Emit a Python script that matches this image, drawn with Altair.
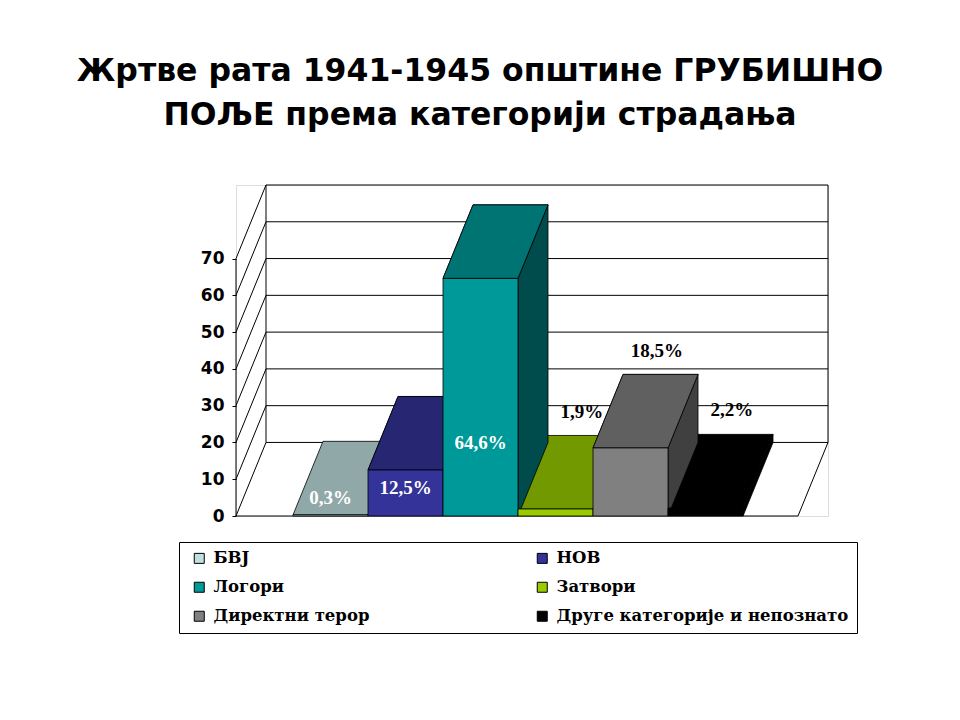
import altair as alt
import pandas as pd

# ---------------- data ----------------
categories = ["БВЈ", "НОВ", "Логори", "Затвори", "Директни терор",
              "Друге категорије и непознато"]
values = [0.3, 12.5, 64.6, 1.9, 18.5, 2.2]
front_colors = ["#c0e0e0", "#333399", "#009999", "#99cc00", "#808080", "#000000"]
label_inside = [True, True, True, False, False, False]
y_ticks = [0, 10, 20, 30, 40, 50, 60, 70]
title_lines = ["Жртве рата 1941-1945 општине ГРУБИШНО",
               "ПОЉЕ према категорији страдања"]

# ---------------- 3D projection style (axis units) ----------------
DX = 0.4          # depth shift along x (in bar widths)
DY = 20.0         # depth shift along y (in value units)
FIRST = 0.76      # floor space before first bar
RIGHT_GAP = 0.733 # floor space after last bar
FLOOR_R = FIRST + len(categories) + RIGHT_GAP
X_MAX = FLOOR_R + DX
Y_MAX = max(y_ticks) + DY
TOP_SHADE = 0.75
SIDE_SHADE = 0.5
LABEL_IN_BASE, LABEL_IN_FRAC = 4.8, 0.232
LABEL_OUT_DX, LABEL_OUT_DY = 0.35, 6.5


def shade(hexc, f):
    r, g, b = (int(hexc[i:i + 2], 16) for i in (1, 3, 5))
    return "#%02x%02x%02x" % (round(r * f), round(g * f), round(b * f))


fronts, tops, sides, tops2, labels = [], [], [], [], []
for i, (c, v, col) in enumerate(zip(categories, values, front_colors)):
    l = FIRST + i
    r = l + 1
    fronts.append(dict(cat=c, x=l, x2=r, y=0, y2=v))
    tcol = shade(col, TOP_SHADE)
    top_rows = [dict(cat=c, y=v, x=l, x2=r, fill=tcol),
                dict(cat=c, y=v + DY, x=l + DX, x2=r + DX, fill=tcol)]
    tops += top_rows
    if i > 0 and v > values[i - 1]:
        tops2 += top_rows
    scol = shade(col, SIDE_SHADE)
    sides += [dict(cat=c, x=r, y=0, y2=v, fill=scol),
              dict(cat=c, x=r + DX, y=DY, y2=v + DY, fill=scol)]
    txt = f"{v:.1f}".replace(".", ",") + "%"
    if label_inside[i]:
        labels.append(dict(x=(l + r) / 2, y=LABEL_IN_BASE + LABEL_IN_FRAC * v,
                           text=txt, fill="#ffffff"))
    else:
        labels.append(dict(x=(l + r) / 2 + LABEL_OUT_DX, y=v + DY + LABEL_OUT_DY,
                           text=txt, fill="#000000"))

walls = []
for k in y_ticks:
    walls.append(dict(x=0, x2=DX, y=k, y2=k + DY))            # left wall
    walls.append(dict(x=DX, x2=X_MAX, y=k + DY, y2=k + DY))   # back grid
walls += [
    dict(x=DX, x2=DX, y=DY, y2=Y_MAX),
    dict(x=X_MAX, x2=X_MAX, y=DY, y2=Y_MAX),
    dict(x=0, x2=0, y=min(y_ticks), y2=max(y_ticks)),
    dict(x=0, x2=FLOOR_R, y=0, y2=0),
    dict(x=FLOOR_R, x2=X_MAX, y=0, y2=DY),
]

# legend fills row by row in the reference (two columns)
n_rows = (len(categories) + 1) // 2
legend_order = [categories[r * 2 + c] for c in range(2) for r in range(n_rows)
                if r * 2 + c < len(categories)]
legend_colors = [front_colors[categories.index(c)] for c in legend_order]

xscale = alt.Scale(domain=[0, X_MAX], nice=False, zero=False)
yscale = alt.Scale(domain=[0, Y_MAX], nice=False, zero=False)
yaxis = alt.Axis(values=y_ticks, domain=False, grid=False, tickSize=4,
                 tickColor="black", tickWidth=1, labelFont="DejaVu Sans",
                 labelFontWeight="bold", labelFontSize=17, labelColor="black",
                 labelPadding=8, title=None)


def X(f):
    return alt.X(f, type="quantitative", scale=xscale, axis=None, stack=None)


def Y(f):
    return alt.Y(f, type="quantitative", scale=yscale, axis=yaxis, stack=None)


wall_layer = alt.Chart(pd.DataFrame(walls)).mark_rule(
    color="black", strokeWidth=1).encode(
    x=X("x"), x2="x2", y=Y("y"), y2="y2")

top_layer = alt.Chart(pd.DataFrame(tops)).mark_area(
    orient="horizontal", stroke="black", strokeWidth=0.8).encode(
    y=Y("y"), x=X("x"), x2="x2", detail="cat:N",
    fill=alt.Fill("fill:N", scale=None))

side_layer = alt.Chart(pd.DataFrame(sides)).mark_area(
    orient="vertical", stroke="black", strokeWidth=0.8).encode(
    x=X("x"), y=Y("y"), y2="y2", detail="cat:N",
    fill=alt.Fill("fill:N", scale=None))

top2_layer = alt.Chart(pd.DataFrame(tops2)).mark_area(
    orient="horizontal", stroke="black", strokeWidth=0.8).encode(
    y=Y("y"), x=X("x"), x2="x2", detail="cat:N",
    fill=alt.Fill("fill:N", scale=None))

front_layer = alt.Chart(pd.DataFrame(fronts)).mark_rect(
    stroke="black", strokeWidth=0.8).encode(
    x=X("x"), x2="x2", y=Y("y"), y2="y2",
    color=alt.Color("cat:N", sort=legend_order,
                    scale=alt.Scale(domain=legend_order, range=legend_colors),
                    legend=alt.Legend(
                        orient="none", legendX=-57, legendY=357, columns=2,
                        title=None, symbolType="square", symbolSize=100,
                        symbolStrokeColor="black", symbolStrokeWidth=1,
                        symbolOffset=4, labelOffset=6,
                        labelFont="DejaVu Serif", labelFontWeight="bold",
                        labelFontSize=16.5, labelColor="black", labelLimit=600,
                        columnPadding=160, rowPadding=12, padding=8,
                        strokeColor="black", fillColor="white")))

label_layer = alt.Chart(pd.DataFrame(labels)).mark_text(
    font="Liberation Serif", fontWeight="bold", fontSize=19,
    baseline="middle", align="center").encode(
    x=X("x"), y=Y("y"), text="text:N", fill=alt.Fill("fill:N", scale=None))

chart = alt.layer(
    wall_layer, top_layer, side_layer, top2_layer, front_layer, label_layer
).properties(
    width=592, height=331,
    autosize=alt.AutoSizeParams(type="none"),
    padding={"left": 228, "top": 177, "right": 100, "bottom": 180},
    title=alt.TitleParams(
        text=title_lines, font="DejaVu Sans", fontSize=31.5,
        fontWeight="bold", color="black", lineHeight=44, anchor="middle",
        frame="group", dx=-52, offset=21, baseline="bottom"),
).configure_view(stroke=None).configure(background="white")

chart.save("out.html", embed_options={"renderer": "svg", "actions": False})
